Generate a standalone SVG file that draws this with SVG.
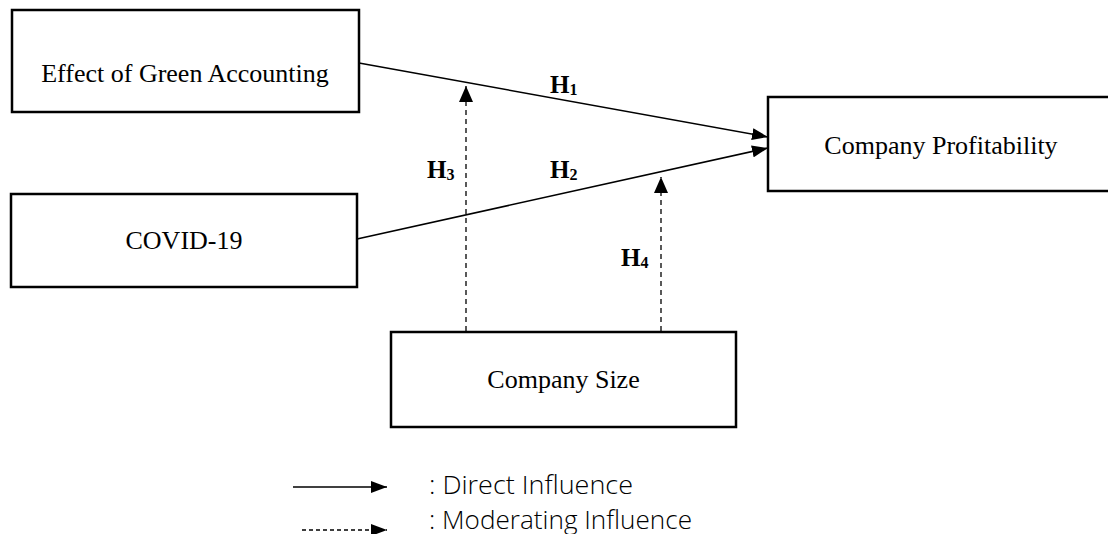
<svg xmlns="http://www.w3.org/2000/svg" width="1108" height="534" viewBox="0 0 1108 534">
  <style>
    .box { fill: #ffffff; stroke: #000000; stroke-width: 2.5; }
    .lbl { font-family: "Liberation Serif", "Times New Roman", serif; font-size: 26px; fill: #000; text-anchor: middle; }
    .h { font-family: "Liberation Serif", "Times New Roman", serif; font-size: 25px; font-weight: bold; fill: #000; }
    .sub { font-size: 16px; }
    .solid { stroke: #000; stroke-width: 1.5; fill: none; }
    .dash { stroke: #000; stroke-width: 1.3; fill: none; stroke-dasharray: 5 4; }
    .leg { font-family: "Open Sans", "Lato", sans-serif; font-size: 25px; font-weight: 300; fill: #000; }
  </style>
  <defs>
    <marker id="arr" viewBox="0 0 16 12" refX="16" refY="6" markerWidth="16" markerHeight="12" markerUnits="userSpaceOnUse" orient="auto">
      <path d="M0,0 L16,6 L0,12 z" fill="#000"/>
    </marker>
    <marker id="arrUp" viewBox="0 0 16 14" refX="16" refY="7" markerWidth="16" markerHeight="14" markerUnits="userSpaceOnUse" orient="auto">
      <path d="M0,0 L16,7 L0,14 z" fill="#000"/>
    </marker>
  </defs>
  <rect width="1108" height="534" fill="#ffffff"/>

  <g id="connectors">
    <line class="solid" x1="359" y1="63" x2="768" y2="137" marker-end="url(#arr)"/>
    <line class="solid" x1="357" y1="239" x2="768" y2="148" marker-end="url(#arr)"/>
    <line class="dash" x1="466" y1="331" x2="466" y2="86" marker-end="url(#arrUp)"/>
    <line class="dash" x1="661" y1="331" x2="661" y2="177" marker-end="url(#arrUp)"/>
  </g>

  <g id="labels">
    <text class="h" x="550" y="93">H<tspan class="sub" dy="2">1</tspan></text>
    <text class="h" x="550" y="178">H<tspan class="sub" dy="2">2</tspan></text>
    <text class="h" x="427" y="178">H<tspan class="sub" dy="2">3</tspan></text>
    <text class="h" x="621" y="266">H<tspan class="sub" dy="2">4</tspan></text>
  </g>

  <g id="node-green">
    <rect class="box" x="12" y="10" width="347" height="102"/>
    <text class="lbl" x="185" y="82">Effect of Green Accounting</text>
  </g>
  <g id="node-covid">
    <rect class="box" x="11" y="194" width="346" height="93"/>
    <text class="lbl" x="184" y="249">COVID-19</text>
  </g>
  <g id="node-profit">
    <rect class="box" x="768" y="97" width="360" height="94"/>
    <text class="lbl" x="941" y="154">Company Profitability</text>
  </g>
  <g id="node-size">
    <rect class="box" x="391" y="332" width="345" height="95"/>
    <text class="lbl" x="563.5" y="388">Company Size</text>
  </g>

  <g id="legend">
    <line class="solid" x1="293" y1="487" x2="387" y2="487" marker-end="url(#arr)"/>
    <line class="dash" x1="302" y1="530" x2="387" y2="530" marker-end="url(#arr)" style="stroke-dasharray:4 3"/>
    <text class="leg" x="429" y="494" textLength="204" lengthAdjust="spacingAndGlyphs">: Direct Influence</text>
    <text class="leg" x="429" y="529" textLength="263" lengthAdjust="spacingAndGlyphs">: Moderating Influence</text>
  </g>
</svg>
